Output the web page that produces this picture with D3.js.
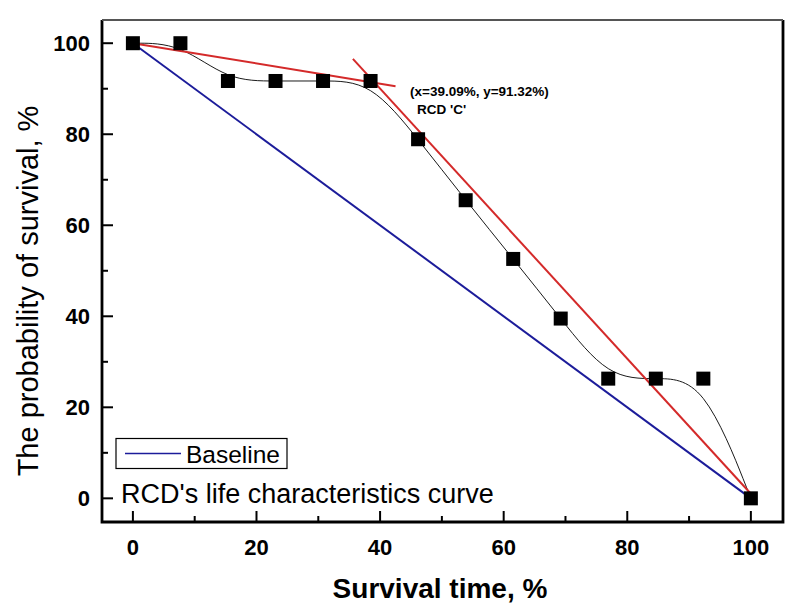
<!DOCTYPE html>
<html><head><meta charset="utf-8">
<script src="https://cdn.jsdelivr.net/npm/d3@7"></script>
<style>body{margin:0;background:#fff}svg{display:block;font-family:"Liberation Sans",Arial,sans-serif}</style>
</head><body><svg id="c" width="798" height="613"></svg>
<script>
const survivalTime = [0, 7.69, 15.38, 23.08, 30.77, 38.46, 46.15, 53.85, 61.54, 69.23, 76.92, 84.62, 92.31, 100];
const probability = [100, 100, 91.7, 91.7, 91.7, 91.7, 78.9, 65.5, 52.6, 39.5, 26.3, 26.3, 26.3, 0];
const baselineX = [0, 100];
const baselineY = [100, 0];
const tangent1X = [0, 42.5];
const tangent1Y = [100, 90.56];
const tangent2X = [35.6, 100];
const tangent2Y = [96.55, 1];
const xTicks = [0, 20, 40, 60, 80, 100];
const yTicks = [0, 20, 40, 60, 80, 100];
const xMinor = [10, 30, 50, 70, 90];
const yMinor = [10, 30, 50, 70, 90];

const svg = d3.select("#c");
const L = 102, R = 783, T = 20, B = 522;
const x = d3.scaleLinear().domain([-5, 105.2]).range([L, R]);
const y = d3.scaleLinear().domain([-5.2, 105.1]).range([B, T]);

// baseline
svg.append("path").datum(baselineX.map((d,i)=>[d, baselineY[i]]))
  .attr("d", d3.line().x(d=>x(d[0])).y(d=>y(d[1])))
  .attr("fill","none").attr("stroke","#1c1c9a").attr("stroke-width",2);

// black smooth curve (B-spline)
svg.append("path").datum(survivalTime.map((d,i)=>[d, probability[i]]))
  .attr("d", d3.line().x(d=>x(d[0])).y(d=>y(d[1])).curve(d3.curveBasis))
  .attr("fill","none").attr("stroke","#000").attr("stroke-width",0.9);

// red tangents
[[tangent1X, tangent1Y],[tangent2X, tangent2Y]].forEach(([tx,ty])=>{
  svg.append("path").datum(tx.map((d,i)=>[d, ty[i]]))
    .attr("d", d3.line().x(d=>x(d[0])).y(d=>y(d[1])))
    .attr("fill","none").attr("stroke","#d42a2a").attr("stroke-width",2);
});

// markers
const s = 14;
svg.selectAll("rect.m").data(survivalTime.map((d,i)=>[d, probability[i]])).join("rect")
  .attr("x", d=>x(d[0])-s/2).attr("y", d=>y(d[1])-s/2)
  .attr("width", s).attr("height", s).attr("fill","#000");

// frame
svg.append("path").attr("d",`M${L},${T}V${B}H${R}V${T}`)
  .attr("fill","none").attr("stroke","#000").attr("stroke-width",2.8);
svg.append("line").attr("x1",L).attr("x2",R).attr("y1",T).attr("y2",T)
  .attr("stroke","#555").attr("stroke-width",2.2);

// axes ticks (inward)
const ax = svg.append("g");
xTicks.forEach(t=>ax.append("line").attr("x1",x(t)).attr("x2",x(t)).attr("y1",B).attr("y2",B-11).attr("stroke","#000").attr("stroke-width",2));
xMinor.forEach(t=>ax.append("line").attr("x1",x(t)).attr("x2",x(t)).attr("y1",B).attr("y2",B-6).attr("stroke","#000").attr("stroke-width",2));
yTicks.forEach(t=>ax.append("line").attr("y1",y(t)).attr("y2",y(t)).attr("x1",L).attr("x2",L+11).attr("stroke","#000").attr("stroke-width",2));
yMinor.forEach(t=>ax.append("line").attr("y1",y(t)).attr("y2",y(t)).attr("x1",L).attr("x2",L+6).attr("stroke","#000").attr("stroke-width",2));

svg.selectAll("text.xt").data(xTicks).join("text")
  .attr("x", d=>x(d)).attr("y", 555).attr("text-anchor","middle")
  .attr("font-size",22).attr("font-weight","bold").text(d=>d);
svg.selectAll("text.yt").data(yTicks).join("text")
  .attr("x", 90).attr("y", d=>y(d)+8).attr("text-anchor","end")
  .attr("font-size",22).attr("font-weight","bold").text(d=>d);

svg.append("text").attr("x",440).attr("y",598).attr("text-anchor","middle")
  .attr("font-size",28).attr("font-weight","bold").text("Survival time, %");
svg.append("text").attr("transform","translate(38,291) rotate(-90)").attr("text-anchor","middle")
  .attr("font-size",29).text("The probability of survival, %");

// annotation
svg.append("text").attr("x",410).attr("y",96).attr("font-size",13.5).attr("font-weight","bold").text("(x=39.09%, y=91.32%)");
svg.append("text").attr("x",417).attr("y",114).attr("font-size",13.5).attr("font-weight","bold").text("RCD 'C'");

// legend
svg.append("rect").attr("x",116).attr("y",438.5).attr("width",171).attr("height",30)
  .attr("fill","#fff").attr("stroke","#000").attr("stroke-width",1.2);
svg.append("line").attr("x1",125).attr("x2",181).attr("y1",453.5).attr("y2",453.5).attr("stroke","#1c1c9a").attr("stroke-width",1.5);
svg.append("text").attr("x",186).attr("y",462.5).attr("font-size",24.5).text("Baseline");
svg.append("text").attr("x",121).attr("y",503).attr("font-size",27).text("RCD's life characteristics curve");
</script></body></html>
